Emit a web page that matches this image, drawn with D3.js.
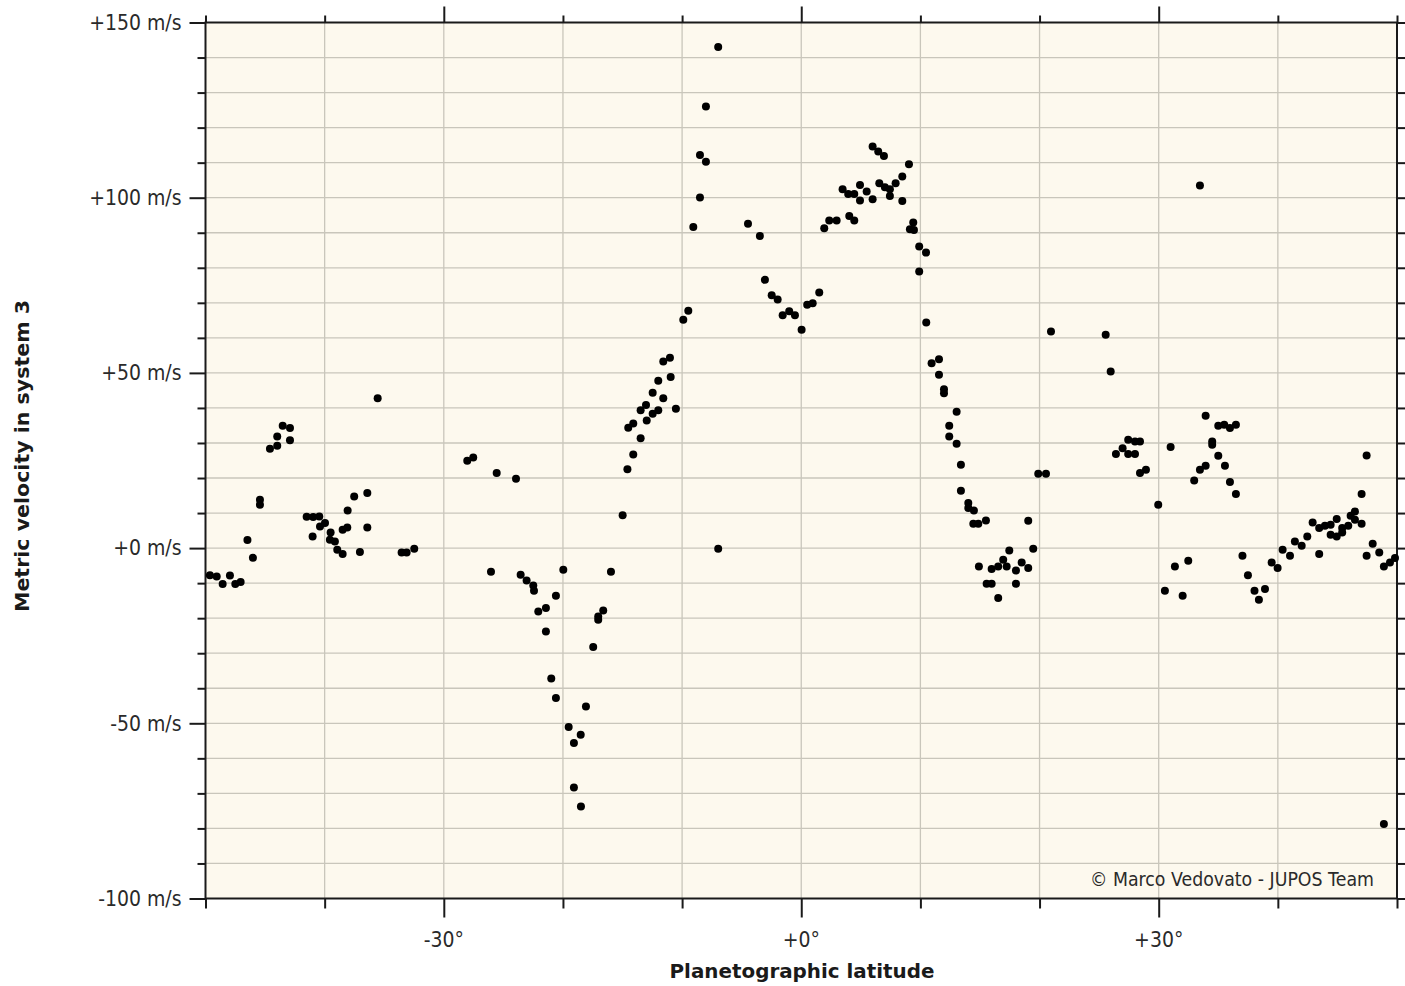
<!DOCTYPE html>
<html><head><meta charset="utf-8">
<script src="https://cdn.jsdelivr.net/npm/d3@7"></script>
<style>html,body{margin:0;padding:0;background:#fff;}svg{display:block;}</style>
</head><body>
<svg id="chart" width="1405" height="986"></svg>
<script>
// [planetographic latitude (deg), metric velocity in system 3 (m/s)]
const observations = [
[-49.63,-7.76],[-49.06,-8.10],[-48.56,-10.27],[-47.95,-7.82],[-47.50,-10.27],[-47.05,-9.70],
[-46.48,2.28],[-46.02,-2.77],[-45.43,13.78],[-45.43,12.35],[-44.59,28.33],[-43.98,29.19],
[-43.98,31.84],[-43.52,34.89],[-42.91,34.24],[-42.91,30.81],[-41.51,8.93],[-41.01,3.31],
[-40.96,8.84],[-40.45,9.02],[-40.39,6.16],[-39.97,7.13],[-39.50,4.45],[-39.56,2.37],
[-39.14,1.88],[-38.94,-0.49],[-38.49,-1.71],[-38.49,5.22],[-38.10,5.88],[-38.07,10.73],
[-37.52,14.72],[-37.04,-1.14],[-36.42,15.69],[-36.42,5.88],[-35.55,42.80],[-33.54,-1.26],
[-33.12,-1.26],[-32.48,-0.20],[-28.03,24.91],[-27.53,25.85],[-26.04,-6.76],[-25.56,21.40],
[-23.94,19.77],[-23.55,-7.62],[-23.05,-9.24],[-22.49,-10.67],[-22.43,-12.18],[-22.07,-18.09],
[-21.43,-17.12],[-21.43,-23.79],[-20.98,-37.20],[-20.59,-13.61],[-20.59,-42.80],[-19.97,-6.19],
[-19.52,-51.07],[-19.08,-55.63],[-19.08,-68.30],[-18.51,-53.27],[-18.49,-73.72],[-18.07,-45.19],
[-17.46,-28.25],[-17.04,-19.51],[-17.04,-20.46],[-16.62,-17.80],[-15.97,-6.76],[-14.99,9.36],
[-14.59,22.48],[-14.10,26.73],[-14.52,34.32],[-14.10,35.58],[-13.48,31.36],[-13.48,39.37],
[-13.03,40.83],[-12.97,36.41],[-12.47,44.31],[-12.47,38.32],[-12.00,47.79],[-12.00,39.37],
[-11.58,53.24],[-11.58,42.74],[-11.02,54.29],[-10.96,48.82],[-10.52,39.77],[-9.90,65.14],
[-9.48,67.76],[-9.06,91.64],[-8.50,112.18],[-8.50,100.09],[-8.00,110.27],[-8.00,126.05],
[-6.97,143.0],[-6.97,-0.2],[-4.47,92.53],[-3.47,89.10],[-3.05,76.55],[-2.48,72.13],
[-1.98,70.98],[-1.56,66.42],[-1.01,67.56],[-0.53,66.42],[0.03,62.28],[0.50,69.42],
[0.96,69.90],[1.51,72.92],[1.93,91.30],[2.35,93.47],[2.97,93.47],[3.47,102.43],
[3.94,101.08],[4.03,94.81],[4.45,101.08],[4.45,93.47],[4.93,103.65],[4.93,99.17],
[5.49,101.74],[5.99,99.57],[5.99,114.58],[6.46,113.15],[6.94,111.93],[6.55,104.14],
[7.02,103.0],[7.44,102.43],[7.44,100.51],[7.92,104.14],[8.48,106.02],[9.04,109.56],
[8.48,99.09],[9.40,92.90],[9.12,91.01],[9.46,90.81],[9.90,86.05],[10.47,84.34],
[9.90,78.92],[10.49,64.37],[10.94,52.78],[11.56,53.92],[11.56,49.44],[11.98,45.36],
[11.98,44.22],[13.04,38.89],[12.42,34.89],[12.42,31.84],[13.04,29.76],[13.40,23.77],
[13.40,16.35],[14.02,12.84],[14.02,11.41],[14.49,10.73],[14.44,6.93],[14.86,6.93],
[15.50,7.87],[14.91,-5.25],[15.56,-10.19],[15.98,-10.19],[15.98,-5.99],[16.53,-14.27],
[16.53,-5.25],[16.95,-3.34],[17.24,-5.25],[17.46,-0.68],[18.02,-6.39],[18.02,-10.19],
[18.50,-4.11],[19.05,-5.71],[19.05,7.79],[19.47,-0.2],[19.89,21.20],[20.54,21.20],
[20.96,61.80],[25.55,60.86],[25.97,50.38],[26.41,26.82],[26.97,28.53],[27.44,30.90],
[27.44,26.82],[28.01,30.41],[28.43,30.41],[28.01,26.82],[28.43,21.40],[28.93,22.34],
[29.96,12.35],[30.52,-12.18],[31.00,28.82],[31.36,-5.25],[32.01,-13.61],[32.48,-3.62],
[32.98,19.29],[33.46,103.45],[33.46,22.34],[33.94,23.48],[33.94,37.75],[34.49,30.41],
[34.49,29.47],[35.00,26.33],[35.00,34.89],[35.50,35.18],[35.98,34.24],[36.48,35.18],
[35.56,23.48],[35.98,18.83],[36.48,15.41],[37.03,-2.20],[37.49,-7.76],[38.04,-12.18],
[38.41,-14.75],[38.92,-11.70],[39.48,-4.11],[39.98,-5.71],[40.40,-0.49],[41.02,-2.20],
[41.43,1.88],[42.00,0.66],[42.47,3.31],[42.92,7.30],[43.47,5.71],[43.47,-1.71],
[43.95,6.36],[44.43,6.65],[44.43,3.79],[44.94,8.27],[44.94,3.31],[45.40,5.71],
[45.40,4.45],[45.91,6.36],[46.11,9.22],[46.47,10.44],[46.47,8.07],[47.03,15.41],
[47.03,6.93],[47.45,26.42],[47.45,-2.20],[47.96,1.23],[48.51,-1.26],[48.90,-5.25],
[49.41,-4.11],[49.83,-2.85],[48.90,-78.74]
];

const latDomain = [-50, 50];
const velDomain = [-100, 150];
const latGridTicks = [-40, -30, -20, -10, 0, 10, 20, 30, 40];
const latLabelTicks = [-30, 0, 30];
const velLabelTicks = [-100, -50, 0, 50, 100, 150];
const velGridTicks = d3.range(-100, 151, 10);

const xTitle = "Planetographic latitude";
const yTitle = "Metric velocity in system 3";
const credit = "\u00A9 Marco Vedovato - JUPOS Team";

const svg = d3.select("#chart");
const L = 205.5, R = 1397, T = 22.5, B = 898.5;
const x = d3.scaleLinear().domain(latDomain).range([L, R]);
const y = d3.scaleLinear().domain(velDomain).range([B, T]);

const font = "'DejaVu Sans', Verdana, sans-serif";
const ink = "#1a1a1a";

// background
svg.append("rect").attr("x", L).attr("y", T).attr("width", R - L).attr("height", B - T)
  .attr("fill", "#fdf9ee");

// grid
const grid = svg.append("g").attr("stroke", "#c9c6bb").attr("stroke-width", 1.3);
grid.selectAll("line.h").data(velGridTicks.filter(v => v > -100 && v < 150)).join("line")
  .attr("x1", L).attr("x2", R).attr("y1", d => y(d)).attr("y2", d => y(d));
grid.selectAll("line.v").data(latGridTicks).join("line").attr("class", "v")
  .attr("y1", T).attr("y2", B).attr("x1", d => x(d)).attr("x2", d => x(d));

// axes with d3 axis generators (ticks only, labels added separately)
function styleAxis(g) {
  g.select(".domain").remove();
  g.selectAll("line").attr("stroke", ink).attr("stroke-width", 2);
  g.selectAll("text").remove();
}
const isMajorLat = d => latLabelTicks.includes(d);
const isMajorVel = d => velLabelTicks.includes(d);
const allLat = d3.range(-50, 51, 10);

svg.append("g").attr("transform", `translate(0,${B})`)
  .call(d3.axisBottom(x).tickValues(allLat).tickSizeOuter(0)).call(styleAxis)
  .selectAll(".tick line").attr("y2", d => isMajorLat(d) ? 19 : 10);
svg.append("g").attr("transform", `translate(0,${T})`)
  .call(d3.axisTop(x).tickValues(allLat).tickSizeOuter(0)).call(styleAxis)
  .selectAll(".tick line").attr("y2", d => isMajorLat(d) ? -16 : -7);
svg.append("g").attr("transform", `translate(${L},0)`)
  .call(d3.axisLeft(y).tickValues(velGridTicks).tickSizeOuter(0)).call(styleAxis)
  .selectAll(".tick line").attr("x2", d => isMajorVel(d) ? -16 : -8);
svg.append("g").attr("transform", `translate(${R},0)`)
  .call(d3.axisRight(y).tickValues(velGridTicks).tickSizeOuter(0)).call(styleAxis)
  .selectAll(".tick line").attr("x2", 10);

// frame
svg.append("rect").attr("x", L).attr("y", T).attr("width", R - L).attr("height", B - T)
  .attr("fill", "none").attr("stroke", ink).attr("stroke-width", 2);

// tick labels
function squeeze(sel, f) {
  sel.each(function () {
    const w = this.getComputedTextLength();
    d3.select(this).attr("textLength", w * f).attr("lengthAdjust", "spacingAndGlyphs");
  });
}
const fmtSigned = v => (v < 0 ? "" : "+") + v;
svg.append("g").selectAll("text").data(velLabelTicks).join("text")
  .attr("x", L - 24).attr("y", d => y(d)).attr("dy", "0.36em")
  .attr("text-anchor", "end").attr("font-family", font).attr("font-size", 20.5)
  .attr("fill", "#2a2a2a").text(d => fmtSigned(d) + " m/s").call(squeeze, 0.92);
svg.append("g").selectAll("text").data(latLabelTicks).join("text")
  .attr("x", d => x(d)).attr("y", 947)
  .attr("text-anchor", "middle").attr("font-family", font).attr("font-size", 20.5)
  .attr("fill", "#2a2a2a").text(d => fmtSigned(d) + "\u00B0").call(squeeze, 0.92);

// titles
svg.append("text").attr("x", 802).attr("y", 978).attr("text-anchor", "middle")
  .attr("font-family", font).attr("font-weight", "bold").attr("font-size", 20)
  .attr("fill", ink).attr("textLength", 265).attr("lengthAdjust", "spacingAndGlyphs")
  .text(xTitle);
svg.append("text").attr("transform", "translate(29,456) rotate(-90)").attr("text-anchor", "middle")
  .attr("font-family", font).attr("font-weight", "bold").attr("font-size", 20)
  .attr("fill", ink).attr("textLength", 312).attr("lengthAdjust", "spacingAndGlyphs")
  .text(yTitle);

// credit
svg.append("text").attr("x", 1374).attr("y", 886).attr("text-anchor", "end")
  .attr("font-family", font).attr("font-size", 19).attr("fill", "#2a2a2a")
  .attr("textLength", 284).attr("lengthAdjust", "spacingAndGlyphs").text(credit);

// points
svg.append("g").selectAll("circle").data(observations).join("circle")
  .attr("cx", d => x(d[0])).attr("cy", d => y(d[1])).attr("r", 4).attr("fill", "#000");
</script>
</body></html>
